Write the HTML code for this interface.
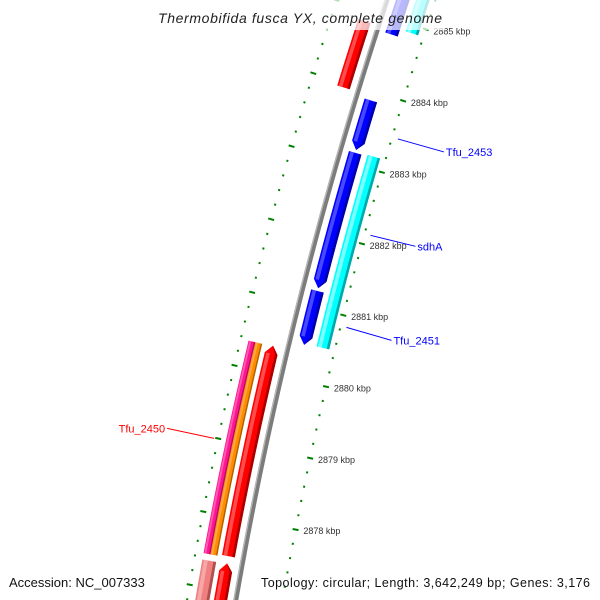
<!DOCTYPE html>
<html><head><meta charset="utf-8"><style>
html,body{margin:0;padding:0;background:#fff;width:600px;height:600px;overflow:hidden;}
svg{display:block;font-family:"Liberation Sans","DejaVu Sans",sans-serif;overflow:hidden;}
</style></head><body>
<svg id="map" width="600" height="600" viewBox="0 0 600 600" xmlns="http://www.w3.org/2000/svg">
<g id="backbone"></g>
<g id="ticks"></g>
<g id="features"></g>
<g id="labels"></g>
<rect x="150" y="0" width="295" height="30" fill="#fff" opacity="0.72"/>
<text x="158" y="23" font-size="14" font-style="italic" fill="#222" textLength="284">Thermobifida fusca YX, complete genome</text>
<text x="9" y="587" font-size="13" fill="#111">Accession: NC_007333</text>
<text x="590" y="587" text-anchor="end" font-size="12.5" fill="#111" textLength="329">Topology: circular; Length: 3,642,249 bp; Genes: 3,176</text>
</svg>
<script>
// Data (kbp positions)
const tickMajors = [2885, 2884, 2883, 2882, 2881, 2880, 2879, 2878];
const tickLabels = ["2885 kbp","2884 kbp","2883 kbp","2882 kbp","2881 kbp","2880 kbp","2879 kbp","2878 kbp"];
const featStart = [2885.49, 2883.878, 2883.150, 2881.231, 2885.49, 2883.170, 2884.852, 2880.375, 2877.373, 2880.365, 2880.365, 2877.364];
const featEnd   = [2884.793, 2883.189, 2881.270, 2880.483, 2884.892, 2880.503, 2883.937, 2877.472, 2876.537, 2877.452, 2877.452, 2876.537];
const featRing  = ["r1","r1","r1","r1","r2","r2","l1","l1","l1","l2o","l2i","l2"];
const featColor = ["blue","blue","blue","blue","cyan","cyan","red","red","red","pink","orange","salmon"];
const featArrow = ["none","down","down","down","none","none","none","up","up","none","none","none"];
const geneNames = ["Tfu_2453","sdhA","Tfu_2451","Tfu_2450"];
const geneKbp   = [2883.49, 2882.14, 2880.85, 2878.99];

// Geometry
function yBB(k){ return 15 + (2885 - k) * 72.25; }
function P(k, d){
  const y0 = yBB(k);
  const x0 = 387 - 0.33*y0 + 1.3e-4*y0*y0;
  const s = -0.33 + 2*1.3e-4*y0;
  const n = Math.sqrt(1 + s*s);
  return [x0 + d/n, y0 - s*d/n];
}
const rings = {r1:[8.5,21.5], r2:[27.5,40.5], l1:[-21.5,-8.5], l2:[-40,-26], l2o:[-40,-33], l2i:[-33,-26]};
const colors = {
  blue:["#0000ff","#5a5aff","#0000a8"], cyan:["#00ffff","#9affff","#00a8a8"],
  red:["#ff0000","#ff6060","#a80000"], pink:["#ff1493","#ff6ab8","#b00d66"],
  orange:["#ff8c00","#ffb050","#b06000"], salmon:["#f08080","#f8b0b0","#b05050"]
};
const NS='http://www.w3.org/2000/svg';
function mk(tag, attrs, parent){
  const e=document.createElementNS(NS,tag);
  for(const a in attrs) e.setAttribute(a, attrs[a]);
  parent.appendChild(e); return e;
}
function pts(a){ return a.map(p=>p[0].toFixed(2)+','+p[1].toFixed(2)).join(' '); }

// Backbone
const bb=document.getElementById('backbone');
function arcPath(d){
  let s=''; for(let k=2885.6;k>=2876.4;k-=0.05){ const p=P(k,d); s+=(s?'L':'M')+p[0].toFixed(2)+' '+p[1].toFixed(2); } return s;
}
const bbMain=mk('path',{d:arcPath(0),stroke:'#7c7c7c','stroke-width':5,fill:'none'},bb);


const bbHi=mk('path',{d:arcPath(-1.8),stroke:'#b8b8b8','stroke-width':1.3,fill:'none'},bb);



// Ticks
const tg=document.getElementById('ticks');
for(let i=0;i<=46;i++){
  const k = 2885.6 - i*0.2;
  const major = Math.abs(k - Math.round(k)) < 0.01;
  [46,-48].forEach(dc=>{
    const half = major?3:1;
    const a=P(k,dc-half), b=P(k,dc+half);
    if(a[1]>600 && b[1]>600) return;
    const t=mk('line',{x1:a[0],y1:a[1],x2:b[0],y2:b[1],stroke:'#008000','stroke-width':2},tg);
    
    
  });
}
tickMajors.forEach((k,i)=>{
  const p=P(k,54);
  const t=mk('text',{x:p[0],y:p[1]+3,'font-size':9,fill:'#333'},tg);
  t.textContent=tickLabels[i];
  
  
});

// Features
const fg=document.getElementById('features');
function band(k1,k2,d1,d2){
  const hiK=Math.max(k1,k2), loK=Math.min(k1,k2);
  const A=[],B=[];
  for(let k=hiK;k>loK;k-=0.05){A.push(P(k,d1));B.push(P(k,d2));}
  A.push(P(loK,d1));B.push(P(loK,d2));
  return A.concat(B.reverse());
}
const AH=0.11; // arrow head length in kbp
featStart.forEach((ks,i)=>{
  const ke=featEnd[i]; const r=rings[featRing[i]]; const c=colors[featColor[i]];
  const hiK=Math.max(ks,ke), loK=Math.min(ks,ke);
  let bodyHi=hiK, bodyLo=loK;
  const arrow=featArrow[i];
  if(arrow==='down') bodyLo=loK+AH;
  if(arrow==='up') bodyHi=hiK-AH;
  const g=mk('g',{},fg);
  
  
  const mid=(r[0]+r[1])/2;
  let poly=band(bodyHi,bodyLo,r[0],r[1]);
  if(arrow==='down'){
    const n=poly.length/2;
    poly=poly.slice(0,n).concat([P(loK,mid)],poly.slice(n));
  } else if(arrow==='up'){
    poly=poly.concat([P(hiK,mid)]);
  }
  mk('polygon',{points:pts(poly),fill:c[0]},g);
  const w=r[1]-r[0];
  mk('polygon',{points:pts(band(bodyHi,bodyLo,r[0]+w*0.12,r[0]+w*0.4)),fill:c[1],opacity:0.8},g);
  mk('polygon',{points:pts(band(bodyHi,bodyLo,r[1]-w*0.2,r[1])),fill:c[2]},g);
  if(arrow!=='none'){
    const tipK = arrow==='down'?loK:hiK, baseK = arrow==='down'?bodyLo:bodyHi;
    mk('polygon',{points:pts([P(baseK,r[1]-w*0.2),P(baseK,r[1]),P(tipK,mid)]),fill:c[2]},g);
  }
});

// Gene labels
const lg=document.getElementById('labels');
const labelCfg=[{d:52,dx:46,dy:13,col:'#0000ff',side:1},{d:52,dx:45,dy:11,col:'#0000ff',side:1},{d:52,dx:45,dy:13,col:'#0000ff',side:1},{d:-52,dx:-47,dy:-10,col:'#ff0000',side:-1}];
geneNames.forEach((nm,i)=>{
  const cf=labelCfg[i];
  const p=P(geneKbp[i], cf.d);
  const q=[p[0]+cf.dx, p[1]+cf.dy];
  const l=mk('line',{x1:p[0],y1:p[1],x2:q[0],y2:q[1],stroke:cf.col,'stroke-width':1},lg);
  
  
  const t=mk('text',{x:q[0]+(cf.side>0?2:-2),y:q[1]+4,'font-size':11,fill:cf.col,'text-anchor':cf.side>0?'start':'end'},lg);
  t.textContent=nm;
  
  
});
</script>
</body></html>
